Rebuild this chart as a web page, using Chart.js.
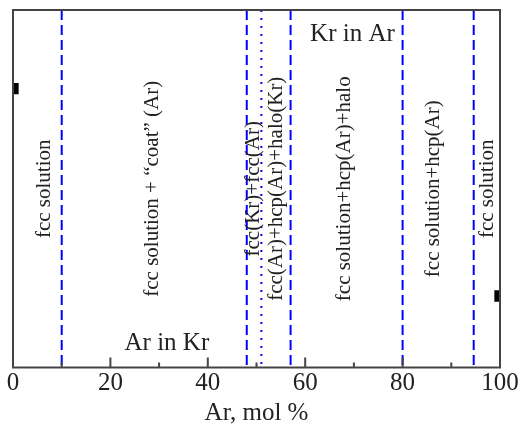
<!DOCTYPE html>
<html>
<head>
<meta charset="utf-8">
<script src="https://cdn.jsdelivr.net/npm/chart.js@4/dist/chart.umd.min.js"></script>
<style>
  html, body { margin: 0; padding: 0; background: #fff; }
  #wrap { width: 520px; height: 427px; }
</style>
</head>
<body>
<div id="wrap"><canvas id="chart" width="520" height="427"></canvas></div>
<script>
// phase boundaries, mol % Ar
const dashedBounds = [10, 48, 57, 80, 94.6];
const dottedBounds = [51];

// pure-component points (x, y in relative units)
const pureX = [0, 100];
const pureY = [0.78, 0.2];

// x axis ticks
const majorTicks = [0, 20, 40, 60, 80, 100];
const minorTicks = [10, 30, 50, 70, 90];

// phase labels, drawn vertically
const phaseLabels = [
  'fcc solution',
  'fcc solution + \u201Ccoat\u201D (Ar)',
  'fcc(Kr)+fcc(Ar)',
  'fcc(Ar)+hcp(Ar)+halo(Kr)',
  'fcc solution+hcp(Ar)+halo',
  'fcc solution+hcp(Ar)',
  'fcc solution'
];
const phaseLabelX = [6.5, 28.7, 49.4, 54.2, 68, 86.4, 97.5];

// horizontal labels
const sideLabels = ['Kr in Ar', 'Ar in Kr'];
const sideLabelX = [69.7, 31.6];
const sideLabelY = [0.933, 0.067];

const serif = '"Liberation Serif", "Times New Roman", serif';

const datasets = [];
dashedBounds.forEach(x => {
  datasets.push({
    data: [{x: x, y: 1}, {x: x, y: 0}],
    showLine: true,
    borderColor: '#0000ff',
    borderWidth: 2,
    borderDash: [10, 5],
    pointRadius: 0
  });
});
dottedBounds.forEach(x => {
  datasets.push({
    data: [{x: x, y: 1}, {x: x, y: 0}],
    showLine: true,
    borderColor: '#0000ff',
    borderWidth: 2,
    borderDash: [2, 6],
    pointRadius: 0
  });
});
datasets.push({
  data: pureX.map((x, i) => ({x: x, y: pureY[i]})),
  showLine: false,
  pointStyle: 'rect',
  pointRadius: 8,
  backgroundColor: '#000',
  borderColor: '#000',
  borderWidth: 0,
  clip: 0
});

// frame, inward ticks and text labels
const decorPlugin = {
  id: 'decor',
  afterDatasetsDraw(chart) {
    const ctx = chart.ctx;
    const a = chart.chartArea;
    const xs = chart.scales.x;
    const ys = chart.scales.y;
    ctx.save();

    ctx.strokeStyle = '#444';
    ctx.lineWidth = 2;
    ctx.beginPath();
    majorTicks.forEach(v => {
      const px = xs.getPixelForValue(v);
      ctx.moveTo(px, a.bottom);
      ctx.lineTo(px, a.bottom - 10);
    });
    minorTicks.forEach(v => {
      const px = xs.getPixelForValue(v);
      ctx.moveTo(px, a.bottom);
      ctx.lineTo(px, a.bottom - 5);
    });
    ctx.stroke();
    ctx.strokeRect(a.left, a.top, a.right - a.left, a.bottom - a.top);

    ctx.fillStyle = '#222';
    ctx.textAlign = 'center';
    ctx.textBaseline = 'middle';
    ctx.font = '21px ' + serif;
    phaseLabels.forEach((t, i) => {
      ctx.save();
      ctx.translate(xs.getPixelForValue(phaseLabelX[i]), ys.getPixelForValue(0.5));
      ctx.rotate(-Math.PI / 2);
      ctx.fillText(t, 0, 0);
      ctx.restore();
    });

    ctx.font = '25px ' + serif;
    sideLabels.forEach((t, i) => {
      ctx.fillText(t, xs.getPixelForValue(sideLabelX[i]), ys.getPixelForValue(sideLabelY[i]));
    });
    ctx.restore();
  }
};

new Chart(document.getElementById('chart'), {
  type: 'scatter',
  data: { datasets: datasets },
  options: {
    responsive: false,
    animation: false,
    events: [],
    layout: { padding: { left: 13, right: 20, top: 10, bottom: 0 } },
    plugins: {
      legend: { display: false },
      tooltip: { enabled: false }
    },
    scales: {
      x: {
        type: 'linear',
        min: 0,
        max: 100,
        grid: { display: false, drawTicks: false },
        border: { display: false },
        ticks: {
          stepSize: 20,
          padding: 1,
          color: '#222',
          font: { family: serif, size: 25 }
        },
        title: {
          display: true,
          text: 'Ar, mol %',
          color: '#222',
          padding: { top: 0, bottom: 0 },
          font: { family: serif, size: 25, lineHeight: 1.1 }
        }
      },
      y: {
        type: 'linear',
        min: 0,
        max: 1,
        display: false
      }
    }
  },
  plugins: [decorPlugin]
});
</script>
</body>
</html>
